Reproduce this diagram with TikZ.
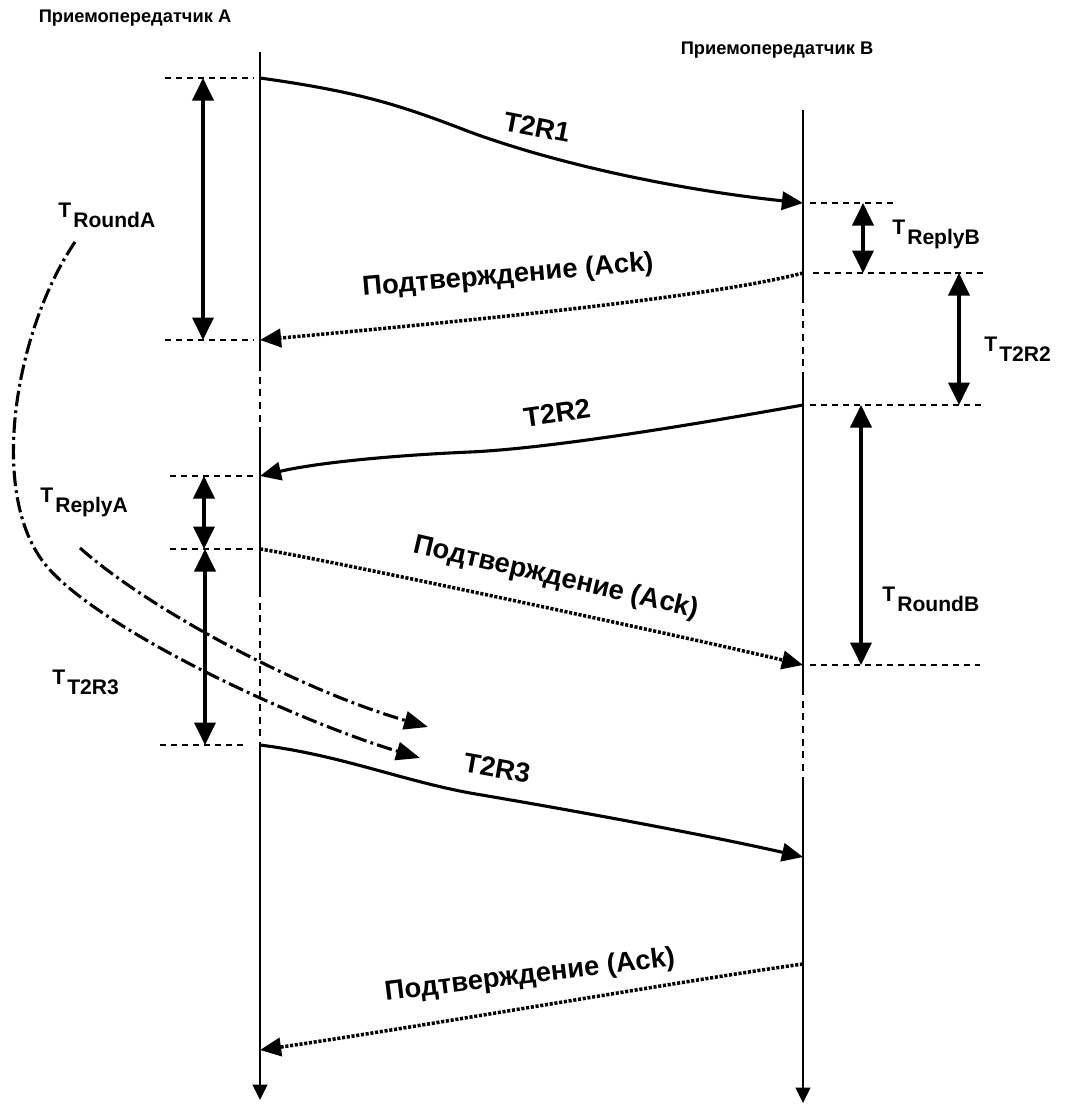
\documentclass[tikz,border=0pt]{standalone}
\usepackage{fontspec}
\setmainfont{Liberation Sans}
\usetikzlibrary{arrows.meta}
\tikzset{
  lifeline/.style={line width=1.3pt},
  lifegap/.style={line width=1.3pt, dash pattern=on 5pt off 4pt},
  lifeend/.style={line width=1.3pt, -{Triangle[length=11pt,width=10.5pt]}},
  msgline/.style={-{Triangle[length=15pt,width=13pt]}, line width=2.2pt},
  ackline/.style={-{Triangle[length=15pt,width=13pt]}, line width=2.5pt, dash pattern=on 2.2pt off 1.2pt},
  dimarrow/.style={{Triangle[length=16pt,width=15pt]}-{Triangle[length=16pt,width=15pt]}, line width=2.4pt},
  guideline/.style={line width=1pt, dash pattern=on 4.3pt off 3.5pt},
  hintline/.style={-{Triangle[length=17pt,width=13pt]}, line width=2.2pt, dash pattern=on 11pt off 3pt on 2pt off 3pt},
  msglabel/.style={font=\fontsize{19.5}{21}\selectfont\bfseries, inner sep=0pt},
  timelabel/.style={font=\fontsize{15}{17}\selectfont\bfseries, inner sep=0pt, anchor=north west},
  titlelabel/.style={font=\fontsize{13}{15}\selectfont\bfseries, inner sep=0pt}
}
\newcommand{\tsub}[1]{T\kern1.5pt\raisebox{-7pt}{#1}}

\begin{document}
\begin{tikzpicture}[x=0.025cm, y=-0.025cm]
\useasboundingbox (0,0) rectangle (1068,1105);
\node[titlelabel] (ttlA) at (135,18) {Приемопередатчик A};
\node[titlelabel] (ttlB) at (777,50) {Приемопередатчик B};

\coordinate (A0) at (260,52);
\coordinate (A1) at (260,78);
\coordinate (A2) at (260,340);
\coordinate (A3) at (260,364);
\coordinate (A4) at (260,428);
\coordinate (A5) at (260,476);
\coordinate (A6) at (260,549);
\coordinate (A7) at (260,590);
\coordinate (A8) at (260,745);
\coordinate (A9) at (260,1050);
\coordinate (A10) at (260,1100);
\coordinate (B0) at (803,110);
\coordinate (B1) at (803,203);
\coordinate (B2) at (803,273);
\coordinate (B3) at (803,296);
\coordinate (B4) at (803,377);
\coordinate (B5) at (803,405);
\coordinate (B6) at (803,665);
\coordinate (B7) at (803,688);
\coordinate (B8) at (803,779);
\coordinate (B9) at (803,857);
\coordinate (B10) at (803,964);
\coordinate (B11) at (803,1103);

\draw[lifeline] (A0) -- (A3);
\draw[lifegap] (A3) -- (A4);
\draw[lifeline] (A4) -- (A7);
\draw[lifegap] (A7) -- (A8);
\draw[lifeend] (A8) -- (A10);
\draw[lifeline] (B0) -- (B3);
\draw[lifegap] (B3) -- (B4);
\draw[lifeline] (B4) -- (B7);
\draw[lifegap] (B7) -- (B8);
\draw[lifeend] (B8) -- (B11);

\draw[msgline] (A1) .. controls (360,92) and (400,105) .. (470,132) .. controls (560,165) and (680,190) .. (B1);
\draw[ackline] (B2) .. controls (700,300) and (420,325) .. (A2);
\draw[msgline] (B5) .. controls (730,418) and (560,448) .. (470,452) .. controls (400,455) and (320,462) .. (A5);
\draw[ackline] (A6) .. controls (330,560) and (700,640) .. (B6);
\draw[msgline] (A8) .. controls (340,755) and (400,780) .. (470,793) .. controls (600,815) and (720,838) .. (B9);
\draw[ackline] (B10) .. controls (700,978) and (400,1030) .. (A9);

\node[msglabel, rotate=-11] (tT2R1) at (537,127) {T2R1};
\node[msglabel, rotate=5] (tAck1) at (508,276) {Подтверждение (Ack)};
\node[msglabel, rotate=8] (tT2R2) at (557,413) {T2R2};
\node[msglabel, rotate=-13] (tAck2) at (556,578) {Подтверждение (Ack)};
\node[msglabel, rotate=-10] (tT2R3) at (497,768) {T2R3};
\node[msglabel, rotate=7] (tAck3) at (530,976) {Подтверждение (Ack)};

\coordinate (gA1) at (165,78);
\coordinate (gA2) at (165,340);
\coordinate (gA5) at (170,476);
\coordinate (gA6) at (170,549);
\coordinate (gA8) at (160,745);
\coordinate (gB1) at (893,203);
\coordinate (gB2) at (987,273);
\coordinate (gB5) at (983,405);
\coordinate (gB6) at (980,665);
\draw[guideline, shorten >=4pt] (gA1) -- (A1);
\draw[guideline, shorten >=4pt] (gA2) -- (A2);
\draw[guideline, shorten >=4pt] (gA5) -- (A5);
\draw[guideline, shorten >=4pt] (gA6) -- (A6);
\draw[guideline, shorten >=10pt] (gA8) -- (A8);
\draw[guideline, shorten <=5pt] (B1) -- (gB1);
\draw[guideline, shorten <=7pt] (B2) -- (gB2);
\draw[guideline, shorten <=5pt] (B5) -- (gB5);
\draw[guideline, shorten <=5pt] (B6) -- (gB6);

\coordinate (dRa1) at (203,78);
\coordinate (dRa2) at (203,340);
\coordinate (dRe1) at (204,476);
\coordinate (dRe2) at (204,549);
\coordinate (dTa1) at (205,549);
\coordinate (dTa2) at (205,745);
\coordinate (dRb1) at (863,203);
\coordinate (dRb2) at (863,273);
\coordinate (dTb1) at (959,273);
\coordinate (dTb2) at (959,405);
\coordinate (dOb1) at (861,405);
\coordinate (dOb2) at (861,665);
\draw[dimarrow] (dRa1) -- (dRa2);
\draw[dimarrow] (dRe1) -- (dRe2);
\draw[dimarrow] (dTa1) -- (dTa2);
\draw[dimarrow] (dRb1) -- (dRb2);
\draw[dimarrow] (dTb1) -- (dTb2);
\draw[dimarrow] (dOb1) -- (dOb2);

\node[timelabel] (lRoundA) at (58,203) {\tsub{RoundA}};
\node[timelabel] (lReplyA) at (40,488) {\tsub{ReplyA}};
\node[timelabel] (lT2R3) at (52,670) {\tsub{T2R3}};
\node[timelabel] (lReplyB) at (892,220) {\tsub{ReplyB}};
\node[timelabel] (lT2R2) at (984,337) {\tsub{T2R2}};
\node[timelabel] (lRoundB) at (882,587) {\tsub{RoundB}};

\coordinate (hRa0) at (75,242);
\coordinate (hRa1) at (420,758);
\coordinate (hRe0) at (80,548);
\coordinate (hRe1) at (428,727);
\draw[hintline] (hRa0) .. controls (15,330) and (-15,500) .. (50,570) .. controls (110,635) and (300,722) .. (hRa1);
\draw[hintline] (hRe0) .. controls (150,610) and (300,690) .. (hRe1);
\end{tikzpicture}
\end{document}
